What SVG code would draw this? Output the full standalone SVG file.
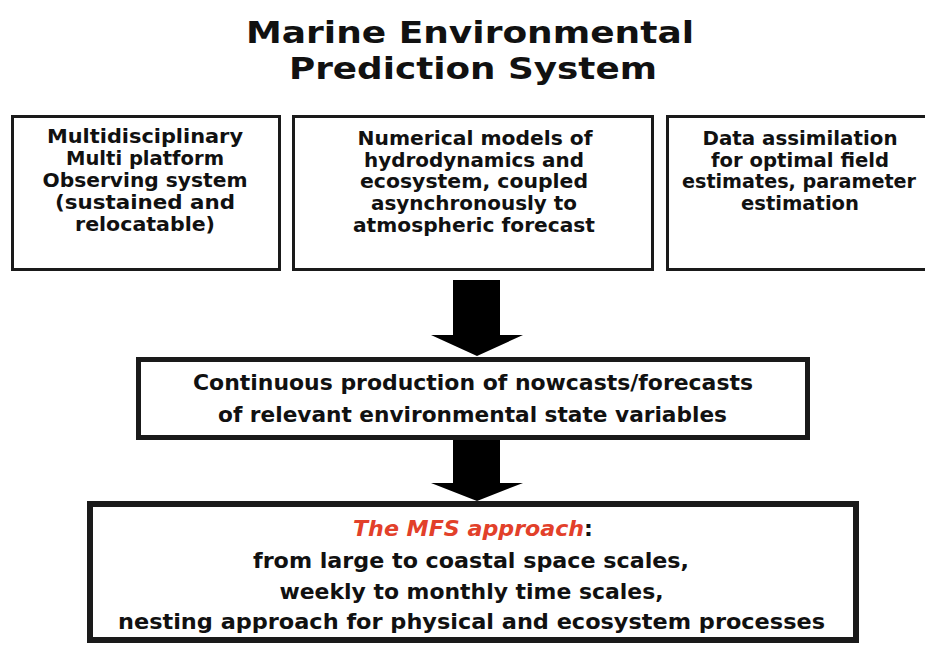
<svg xmlns="http://www.w3.org/2000/svg" width="925" height="646" viewBox="0 0 925 646">
<style>
.bg{fill:#ffffff}
.box{fill:#ffffff;stroke:#1a1a1a}
.title{font-family:"DejaVu Sans","Liberation Sans",sans-serif;font-weight:bold;font-size:31px;fill:#111;text-anchor:middle}
.top{font-family:"DejaVu Sans","Liberation Sans",sans-serif;font-weight:bold;font-size:19px;fill:#111;text-anchor:middle}
.low{font-family:"DejaVu Sans Condensed","DejaVu Sans","Liberation Sans",sans-serif;font-weight:bold;font-size:22px;fill:#111;text-anchor:middle}
.red{fill:#e2402a;font-style:italic}
.arrow{fill:#000000}
</style>
<rect class="bg" x="0" y="0" width="925" height="646"/>
<g id="title">
<text class="title" x="470" y="43" textLength="448" lengthAdjust="spacingAndGlyphs">Marine Environmental</text>
<text class="title" x="473" y="79" textLength="368" lengthAdjust="spacingAndGlyphs">Prediction System</text>
</g>
<g id="observing">
<rect class="box" x="12.5" y="116.5" width="267" height="153" stroke-width="3"/>
<text class="top" x="145" y="143" textLength="196" lengthAdjust="spacingAndGlyphs">Multidisciplinary</text>
<text class="top" x="145" y="165" textLength="158" lengthAdjust="spacingAndGlyphs">Multi platform</text>
<text class="top" x="145" y="187" textLength="205" lengthAdjust="spacingAndGlyphs">Observing system</text>
<text class="top" x="145" y="209" textLength="180" lengthAdjust="spacingAndGlyphs">(sustained and</text>
<text class="top" x="145" y="231" textLength="140" lengthAdjust="spacingAndGlyphs">relocatable)</text>
</g>
<g id="models">
<rect class="box" x="293.5" y="116.5" width="359" height="153" stroke-width="3"/>
<text class="top" x="475" y="145" textLength="235" lengthAdjust="spacingAndGlyphs">Numerical models of</text>
<text class="top" x="474" y="167" textLength="220" lengthAdjust="spacingAndGlyphs">hydrodynamics and</text>
<text class="top" x="474" y="188" textLength="228" lengthAdjust="spacingAndGlyphs">ecosystem, coupled</text>
<text class="top" x="474" y="210" textLength="206" lengthAdjust="spacingAndGlyphs">asynchronously to</text>
<text class="top" x="474" y="232" textLength="242" lengthAdjust="spacingAndGlyphs">atmospheric forecast</text>
</g>
<g id="assimilation">
<path class="box" d="M925,116.5 H667.5 V269.5 H925" stroke-width="3"/>
<text class="top" x="800" y="145" textLength="195" lengthAdjust="spacingAndGlyphs">Data assimilation</text>
<text class="top" x="800" y="167" textLength="178" lengthAdjust="spacingAndGlyphs">for optimal field</text>
<text class="top" x="799" y="188" textLength="234" lengthAdjust="spacingAndGlyphs">estimates, parameter</text>
<text class="top" x="800" y="210" textLength="118" lengthAdjust="spacingAndGlyphs">estimation</text>
</g>
<g id="connectors">
<polygon class="arrow" points="453,280 500,280 500,335 523,335 477,356 431,335 453,335"/>
<polygon class="arrow" points="453,440 500,440 500,483 523,483 477,501 431,483 453,483"/>
</g>
<g id="production">
<rect class="box" x="138.5" y="359.5" width="669" height="78" stroke-width="5"/>
<text class="low" x="473" y="390" textLength="560" lengthAdjust="spacingAndGlyphs">Continuous production of nowcasts/forecasts</text>
<text class="low" x="472.5" y="422" textLength="509" lengthAdjust="spacingAndGlyphs">of relevant environmental state variables</text>
</g>
<g id="approach">
<rect class="box" x="90" y="504" width="766" height="136" stroke-width="6"/>
<text class="low" x="473" y="536" textLength="240" lengthAdjust="spacingAndGlyphs"><tspan class="red">The MFS approach</tspan>:</text>
<text class="low" x="471" y="568" textLength="436" lengthAdjust="spacingAndGlyphs">from large to coastal space scales,</text>
<text class="low" x="471.5" y="599" textLength="384" lengthAdjust="spacingAndGlyphs">weekly to monthly time scales,</text>
<text class="low" x="471.5" y="629" textLength="707" lengthAdjust="spacingAndGlyphs">nesting approach for physical and ecosystem processes</text>
</g>
</svg>
